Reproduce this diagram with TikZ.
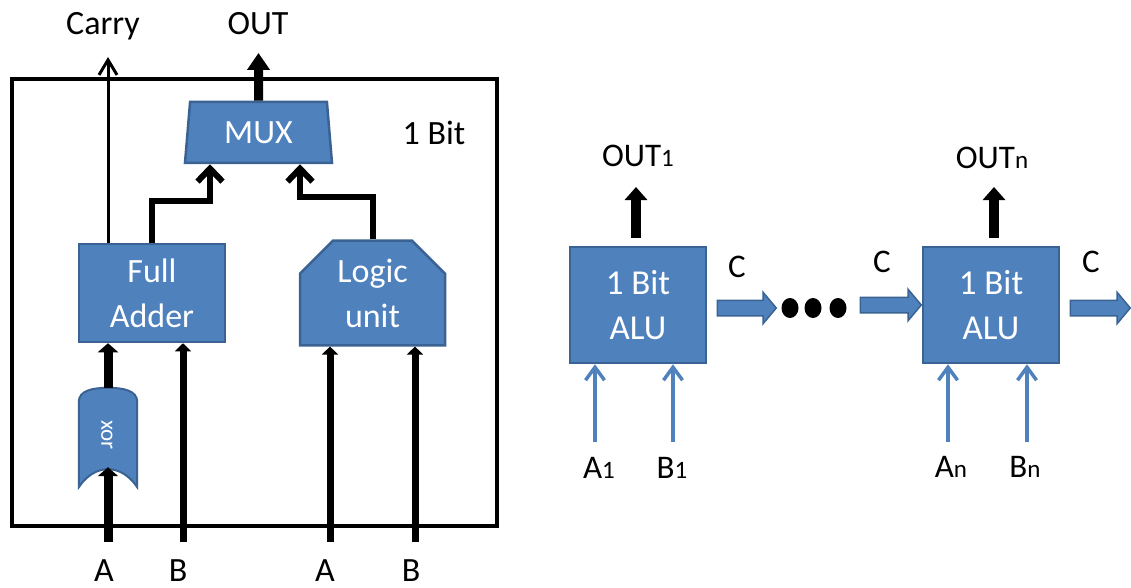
\documentclass[tikz,border=0pt]{standalone}
\usepackage{fontspec}
\setmainfont{Carlito}
\usetikzlibrary{shapes.geometric,shapes.misc,shapes.arrows,arrows.meta,calc}
\definecolor{ofblue}{HTML}{4F81BD}
\definecolor{ofdark}{HTML}{3A6394}
\newcommand\fbig{\fontsize{34}{45}\selectfont}
\newcommand\fmid{\fontsize{35}{45}\selectfont}
\newcommand\flab{\fontsize{33}{38}\selectfont}
\newcommand\fxor{\fontsize{23}{25}\selectfont}
\newcommand\subtx[1]{{\fontsize{25}{26}\selectfont #1}}
\begin{document}
\begin{tikzpicture}[x=1pt,y=-1pt,
  box/.style={draw=ofdark, fill=ofblue, line width=2.5pt, text=white, align=center, inner sep=0pt},
  lbl/.style={inner sep=0pt, anchor=base},
  bigarrow/.style={line width=#1, line join=miter, line cap=butt},
  inarr/.style={draw=ofblue, line width=3.5pt, -{Straight Barb[width=19pt,length=13pt]}},
  carryarr/.style={single arrow, draw=ofdark, fill=ofblue, line width=1.5pt, inner xsep=0pt, inner ysep=7pt,
    single arrow head extend=8pt, single arrow tip angle=100, minimum height=#1, anchor=center},
  dot/.style={ellipse, fill=black, minimum width=17pt, minimum height=20pt, inner sep=0pt}
]
\useasboundingbox (0,0) rectangle (1131,588);

% ---------- left: 1 bit ALU internals ----------
\node[draw, line width=3.5pt, minimum width=485pt, minimum height=447pt, inner sep=0pt] (frame) at (254.5,302.5) {};

\node[box, trapezium, trapezium stretches body, trapezium left angle=77, trapezium right angle=77,
      minimum width=147pt, minimum height=61pt, font=\fbig] (mux) at (258.5,132.5) {MUX};
\node[box, minimum width=146pt, minimum height=98pt, font=\fbig] (fa) at (152,293) {Full\\Adder};
\node[box, chamfered rectangle, chamfered rectangle corners={north west,north east},
      chamfered rectangle xsep=15pt, chamfered rectangle ysep=18pt,
      minimum width=145pt, minimum height=98pt, font=\fbig] (lu) at (372.5,293) {Logic\\unit};

\node[minimum width=58pt, minimum height=99pt, inner sep=0pt] (xor) at (108,437.5) {};
\filldraw[fill=ofblue, draw=ofdark, line width=2pt]
  (xor.south west) -- ($(xor.north west)+(0,14)$)
  .. controls ($(xor.north west)+(0,3)$) and ($(xor.north)+(-16,0)$) .. (xor.north)
  .. controls ($(xor.north)+(16,0)$) and ($(xor.north east)+(0,3)$) .. ($(xor.north east)+(0,14)$)
  -- (xor.south east)
  .. controls ($(xor.south east)+(-16,-24)$) and ($(xor.south west)+(16,-24)$) .. cycle;
\node[rotate=-90, text=white, font=\fxor, inner sep=0pt] (xortext) at (107,435) {xor};

\node[lbl, font=\fbig] (onebit) at (434,145) {1 Bit};
\node[lbl, font=\fbig] (carry) at (103,35) {Carry};
\node[lbl, font=\fbig] (out) at (258,35) {OUT};

\coordinate (carrytip) at (108,57);
\coordinate (outtip) at (258.5,53);
\coordinate (ia) at (108,542);
\coordinate (ib) at (183,542);
\coordinate (ia2) at (330,542);
\coordinate (ib2) at (415,542);

\draw[bigarrow=3pt, -{Straight Barb[width=18pt,length=15pt]}] (fa.north -| carrytip) -- (carrytip);
\draw[bigarrow=9pt, -{Triangle[width=22pt,length=17pt]}] (mux.north) -- (outtip);
\draw[bigarrow=6pt, -{Straight Barb[width=25pt,length=13pt]}] (fa.north) -- ++(0,-42) -| ($(mux.south)+(-48.5,0)$);
\draw[bigarrow=6pt, -{Straight Barb[width=25pt,length=13pt]}] (lu.north) -- ++(0,-42) -| ($(mux.south)+(41.5,0)$);

\draw[bigarrow=9pt, -{Triangle[width=20pt,length=9pt]}] (ia) -- ($(xor.south)+(0,-20)$);
\draw[bigarrow=9pt, -{Triangle[width=20pt,length=9pt]}] (xor.north) -- (xor.north |- fa.south);
\draw[bigarrow=7pt, -{Triangle[width=16pt,length=8pt]}] (ib) -- (ib |- fa.south);
\draw[bigarrow=7pt, -{Triangle[width=16pt,length=8pt]}] (ia2) -- (ia2 |- lu.south);
\draw[bigarrow=7pt, -{Triangle[width=16pt,length=8pt]}] (ib2) -- (ib2 |- lu.south);

\node[lbl, font=\fbig] (la) at (104,581) {A};
\node[lbl, font=\fbig] (lb) at (178,581) {B};
\node[lbl, font=\fbig] (la2) at (325,581) {A};
\node[lbl, font=\fbig] (lb2) at (411,581) {B};

% ---------- right: chain of 1 bit ALUs ----------
\node[box, minimum width=136pt, minimum height=116pt, font=\fmid] (alu1) at (638,305) {1 Bit\\ALU};
\node[box, minimum width=136pt, minimum height=116pt, font=\fmid] (alun) at (991,305) {1 Bit\\ALU};

\coordinate (o1tip) at (636,187);
\coordinate (ontip) at (994,187);
\draw[bigarrow=10pt, shorten <=8pt, -{Triangle[width=22pt,length=13pt]}] (o1tip |- alu1.north) -- (o1tip);
\draw[bigarrow=10pt, shorten <=8pt, -{Triangle[width=22pt,length=13pt]}] (ontip |- alun.north) -- (ontip);

\node[lbl, font=\flab] (out1) at (638,167) {OUT\subtx{1}};
\node[lbl, font=\flab] (outn) at (992,168) {OUT\subtx{n}};

\node[carryarr=59pt] (c1) at (743.5,308) {};
\node[carryarr=61pt] (c2) at (887.5,305) {};
\node[carryarr=60pt] (c3) at (1097,308) {};
\node[lbl, font=\flab] (lc1) at (737,277) {C};
\node[lbl, font=\flab] (lc2) at (882,272) {C};
\node[lbl, font=\flab] (lc3) at (1091,272) {C};

\node[dot] (d1) at (790,308) {};
\node[dot] (d2) at (813,308) {};
\node[dot] (d3) at (838,308) {};

\coordinate (ai1) at (595,442);
\coordinate (bi1) at (673,442);
\coordinate (ain) at (948,442);
\coordinate (bin) at (1027,442);
\draw[inarr] (ai1) -- (ai1 |- alu1.south);
\draw[inarr] (bi1) -- (bi1 |- alu1.south);
\draw[inarr] (ain) -- (ain |- alun.south);
\draw[inarr] (bin) -- (bin |- alun.south);

\node[lbl, font=\flab] (a1) at (599,478) {A\subtx{1}};
\node[lbl, font=\flab] (b1) at (672,478) {B\subtx{1}};
\node[lbl, font=\flab] (an) at (951,477) {A\subtx{n}};
\node[lbl, font=\flab] (bn) at (1025,477) {B\subtx{n}};
\end{tikzpicture}
\end{document}
